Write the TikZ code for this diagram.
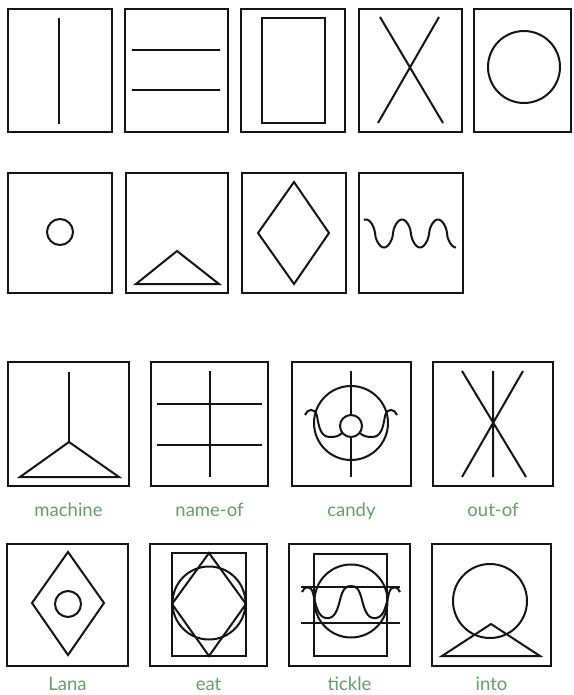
\documentclass[tikz,border=0pt]{standalone}
\usepackage{fontspec}
\usepackage{tikz}
\usetikzlibrary{positioning}
\newfontfamily\wordfont{Lato}
\definecolor{Sage}{HTML}{6A9C6A}
\definecolor{Ink}{HTML}{141414}

\begin{document}
\begin{tikzpicture}[x=1pt, y=-1pt, line width=2pt, color=Ink,
    box/.style={draw, line width=2pt, inner sep=0pt},
    word/.style={text=Sage, font=\wordfont\fontsize{18.5}{22}\selectfont, inner sep=0pt, text height=13pt, text depth=3pt}]
    \fill[white] (0,0) rectangle (573,695);
    \useasboundingbox (0,0) rectangle (573,695);

    % first row of plain signs
    \node[box, minimum width=104pt, minimum height=123pt] (stroke) at (60,70.5) {};
    \node[box, minimum width=103pt, minimum height=123pt] (bars) at (176.5,70.5) {};
    \node[box, minimum width=104pt, minimum height=123pt] (frame) at (293,70.5) {};
    \node[box, minimum width=103pt, minimum height=123pt] (cross) at (410.5,70.5) {};
    \node[box, minimum width=97pt, minimum height=123pt] (ring) at (522.5,70.5) {};
    \draw (59,18) -- (59,124);
    \draw (132,50) -- (220,50) (132,90) -- (220,90);
    \draw (262,18) rectangle (325,123);
    \draw (380,17) -- (443,123) (439,17) -- (378,123);
    \draw (524,67) circle (36pt);

    % second row
    \node[box, minimum width=104pt, minimum height=120pt] (dot) at (60,233) {};
    \node[box, minimum width=102pt, minimum height=120pt] (roof) at (177,233) {};
    \node[box, minimum width=104pt, minimum height=120pt] (rhomb) at (294,233) {};
    \node[box, minimum width=104pt, minimum height=120pt] (wave) at (411,233) {};
    \draw (60,232) circle (13pt);
    \draw (136,284) -- (177,251) -- (219,284) -- cycle;
    \draw (294,182) -- (329,233) -- (294,284) -- (258,233) -- cycle;
    \draw plot[domain=364:456, samples=120, smooth]
      (\x,{233.5+14*sign(cos(10*(\x-384)))*abs(cos(10*(\x-384)))^0.6});

    % composed signs with their words
    \node[box, minimum width=121pt, minimum height=124pt] (machine) at (68.5,424) {};
    \node[box, minimum width=117pt, minimum height=124pt] (nameof) at (209.5,424) {};
    \node[box, minimum width=119pt, minimum height=124pt] (candy) at (351.5,424) {};
    \node[box, minimum width=120pt, minimum height=124pt] (outof) at (493,424) {};
    \node[word, below=15pt of machine] (lmachine) {machine};
    \node[word, below=15pt of nameof] (lnameof) {name-of};
    \node[word, below=15pt of candy] (lcandy) {candy};
    \node[word, below=15pt of outof] (loutof) {out-of};

    \draw (69,372) -- (69,442);
    \draw (20,477) -- (69,442) -- (119,477) -- cycle;
    \draw (210,371) -- (210,477) (157,404) -- (262,404) (157,445) -- (262,445);
    \draw (351,371) -- (351,477);
    \draw (351,423) circle (37pt);
    \draw[fill=white] (351,426) circle (11pt);
    \draw (305,415) .. controls (307,409) and (315,407) .. (317,416)
      .. controls (319,428) and (321,437) .. (330,437)
      .. controls (336,437) and (339,436) .. (342,433);
    \draw (397,415) .. controls (395,409) and (387,407) .. (385,416)
      .. controls (383,428) and (381,437) .. (372,437)
      .. controls (366,437) and (363,436) .. (360,433);
    \draw (493,371) -- (493,477) (462,371) -- (526,477) (523,371) -- (462,477);

    \node[box, minimum width=121pt, minimum height=122pt] (lana) at (67.5,605) {};
    \node[box, minimum width=117pt, minimum height=122pt] (eat) at (208.5,605) {};
    \node[box, minimum width=121pt, minimum height=122pt] (tickle) at (349.5,605) {};
    \node[box, minimum width=119pt, minimum height=122pt] (into) at (491.5,605) {};
    \node[word, below=9pt of lana] (llana) {Lana};
    \node[word, below=9pt of eat] (leat) {eat};
    \node[word, below=9pt of tickle] (ltickle) {tickle};
    \node[word, below=9pt of into] (linto) {into};

    \draw (68,552) -- (104,603) -- (68,655) -- (32,603) -- cycle;
    \draw (68,604) circle (13pt);
    \draw (172,553) rectangle (246,656);
    \draw (209,553) -- (246,604) -- (209,656) -- (172,604) -- cycle;
    \draw (209,603) circle (36.5pt);
    \draw (314,554) rectangle (387,656);
    \draw (351,601) circle (36.5pt);
    \draw (301,587) -- (400,587) (301,623) -- (400,623);
    \draw (302,592) .. controls (304,586) and (311,585) .. (313,593)
      .. controls (316,606) and (318,617) .. (326,618)
      .. controls (334,619) and (337,612) .. (340,600)
      .. controls (343,588) and (346,586) .. (351,586)
      .. controls (356,586) and (359,588) .. (362,600)
      .. controls (365,612) and (368,619) .. (376,618)
      .. controls (384,617) and (386,606) .. (389,593)
      .. controls (391,585) and (398,586) .. (400,592);
    \draw (490,601) circle (37pt);
    \draw (442,656) -- (491,624) -- (540,656) -- cycle;
\end{tikzpicture}
\end{document}
